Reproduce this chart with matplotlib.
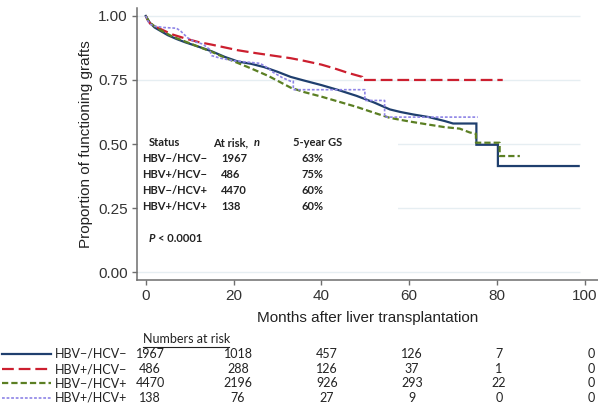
import matplotlib
matplotlib.use("Agg")
import matplotlib.pyplot as plt
from matplotlib.lines import Line2D
from matplotlib.patches import Rectangle

plt.rcParams['lines.scale_dashes'] = False

# ---------------- data ----------------
groups = ["HBV−/HCV−", "HBV+/HCV−", "HBV−/HCV+", "HBV+/HCV+"]
at_risk_n = ["1967", "486", "4470", "138"]
gs5 = ["63%", "75%", "60%", "60%"]

risk_months = [0, 20, 40, 60, 80, 100]
risk_hbvneg_hcvneg = [1967, 1018, 457, 126, 7, 0]
risk_hbvpos_hcvneg = [486, 288, 126, 37, 1, 0]
risk_hbvneg_hcvpos = [4470, 2196, 926, 293, 22, 0]
risk_hbvpos_hcvpos = [138, 76, 27, 9, 0, 0]

t_hbvneg_hcvneg = [0, 0.5, 1, 2, 3, 5, 7, 9, 12, 15, 18, 21, 24, 27, 30, 33, 36, 40, 44, 48,
                   52, 55.6, 58, 61, 64.5, 68, 70, 75.3, 75.3, 80.2, 80.2, 98.6]
s_hbvneg_hcvneg = [1.0, 0.985, 0.972, 0.955, 0.945, 0.925, 0.91, 0.897, 0.88, 0.862, 0.84, 0.822,
                   0.813, 0.8, 0.782, 0.762, 0.748, 0.73, 0.71, 0.688, 0.662, 0.635, 0.625,
                   0.615, 0.605, 0.59, 0.58, 0.58, 0.497, 0.497, 0.414, 0.414]

t_hbvpos_hcvneg = [0, 0.5, 1, 3, 6, 9, 12, 15, 18, 21, 25, 29, 33, 36, 40, 43, 46, 49.3, 49.3,
                   81.3]
s_hbvpos_hcvneg = [1.0, 0.982, 0.97, 0.952, 0.928, 0.912, 0.898, 0.888, 0.877, 0.866, 0.855,
                   0.845, 0.835, 0.825, 0.81, 0.795, 0.778, 0.762, 0.75, 0.75]

t_hbvneg_hcvpos = [0, 0.5, 1, 3, 6, 9, 12, 15, 18, 21, 24, 28, 31, 33, 36, 40, 44, 48, 52, 55.6,
                   60, 64.7, 68, 71.5, 73.8, 75.2, 75.2, 80.6, 80.6, 85.2]
s_hbvneg_hcvpos = [1.0, 0.985, 0.972, 0.948, 0.92, 0.9, 0.88, 0.86, 0.837, 0.816, 0.795, 0.765,
                   0.738, 0.72, 0.703, 0.685, 0.665, 0.645, 0.622, 0.602, 0.588, 0.575, 0.566,
                   0.56, 0.545, 0.54, 0.505, 0.505, 0.453, 0.453]

t_hbvpos_hcvpos = [0, 0.5, 1, 2, 4, 7, 8, 9.5, 11, 13, 14.5, 15, 17, 20, 23, 26, 27.5, 29, 31,
                   33, 33.6, 33.6, 49.9, 49.9, 54.4, 54.4, 75.6]
s_hbvpos_hcvpos = [1.0, 0.98, 0.968, 0.96, 0.955, 0.952, 0.94, 0.915, 0.9, 0.89, 0.87, 0.845,
                   0.835, 0.825, 0.82, 0.815, 0.8, 0.78, 0.76, 0.745, 0.745, 0.712, 0.712, 0.67,
                   0.67, 0.605, 0.605]

x_ticks = [0, 20, 40, 60, 80, 100]
y_ticks = [0.0, 0.25, 0.5, 0.75, 1.0]

# ---------------- styles ----------------
colors = ["#1f3f6e", "#cc1f2f", "#5b7f23", "#8e84e6"]
lws = [1.6, 1.6, 1.6, 1.2]
dashes = [None, (8.5, 3.5), (4.5, 2.2), (2.0, 1.3)]

W, H = 598, 416
fig = plt.figure(figsize=(W / 100, H / 100), dpi=100)
ax = fig.add_axes([137 / W, 1 - 280 / H, (598 - 137) / W, (280 - 8) / H])
ax.set_xlim(-2, 103)
ax.set_ylim(-0.031, 1.031)

for sp in ["top", "right"]:
    ax.spines[sp].set_visible(False)
for sp in ["left", "bottom"]:
    ax.spines[sp].set_color("#6e6e6e")
    ax.spines[sp].set_linewidth(1.1)

ax.set_xticks(x_ticks)
ax.set_yticks(y_ticks)
ax.set_yticklabels([f"{v:.2f}" for v in y_ticks])
ax.tick_params(direction="out", length=3.5, width=1, color="#6e6e6e",
               labelsize=11, labelcolor="#333333", pad=3)
for lab in ax.get_xticklabels() + ax.get_yticklabels():
    lab.set_family("Liberation Sans")

ax.hlines(y_ticks, -2, 99, colors="#e6eef2", linewidth=1.0, zorder=0.5)
ax.add_patch(Rectangle((-2, 0.19), 59.5, 0.37, facecolor="white", edgecolor="none", zorder=1))

series = [(t_hbvneg_hcvneg, s_hbvneg_hcvneg), (t_hbvpos_hcvneg, s_hbvpos_hcvneg),
          (t_hbvneg_hcvpos, s_hbvneg_hcvpos), (t_hbvpos_hcvpos, s_hbvpos_hcvpos)]
order = [3, 2, 0, 1]
for i in order:
    t, s = series[i]
    ln, = ax.plot(t, s, color=colors[i], lw=lws[i], zorder=3 + i * 0.1,
                  solid_joinstyle="miter")
    if dashes[i]:
        ln.set_dashes(dashes[i])

ax.set_xlabel("Months after liver transplantation", fontsize=11, family="Liberation Sans",
              color="#222222", labelpad=6)
ax.set_ylabel("Proportion of functioning grafts", fontsize=11, family="Liberation Sans",
              color="#222222", labelpad=4)


def fx(px):
    return px / W


def fy(py):
    return 1 - py / H


# in-plot table
FAM = ["Lato", "DejaVu Sans"]
tkw = dict(family=FAM, fontsize=8, fontweight="bold", color="#222222", va="center")
fig.text(fx(149), fy(143), "Status", **tkw)
fig.text(fx(213), fy(143), "At risk,", **tkw)
fig.text(fx(254), fy(143), "n", style="italic", **tkw)
fig.text(fx(293), fy(143), "5-year GS", **tkw)
rows_y = [159, 175, 191, 207]
for i in range(4):
    fig.text(fx(142), fy(rows_y[i]), groups[i], **tkw)
    fig.text(fx(221), fy(rows_y[i]), at_risk_n[i], **tkw)
    fig.text(fx(301), fy(rows_y[i]), gs5[i], **tkw)
fig.text(fx(149), fy(238), "P", style="italic", **tkw)
fig.text(fx(158), fy(238), "< 0.0001", **tkw)

# numbers at risk table
bfont = dict(family=FAM, fontsize=9, color="#222222", va="center")
fig.text(fx(143), fy(339), "Numbers at risk", **bfont)
fig.add_artist(Line2D([fx(143), fx(229)], [fy(347), fy(347)], color="#222222", lw=0.8))
risk_rows = [risk_hbvneg_hcvneg, risk_hbvpos_hcvneg, risk_hbvneg_hcvpos, risk_hbvpos_hcvpos]
brow_y = [354, 369, 383, 398]
col_x = [150, 238, 327, 412, 499, 591]
for i in range(4):
    y = fy(brow_y[i])
    l = Line2D([fx(2), fx(51)], [y, y], color=colors[i], lw=lws[i])
    if dashes[i]:
        l.set_dashes(dashes[i])
    fig.add_artist(l)
    fig.text(fx(55), y, groups[i], **bfont)
    for j, v in enumerate(risk_rows[i]):
        fig.text(fx(col_x[j]), y, str(v), ha="center", **bfont)

fig.savefig("out.png", dpi=100)
